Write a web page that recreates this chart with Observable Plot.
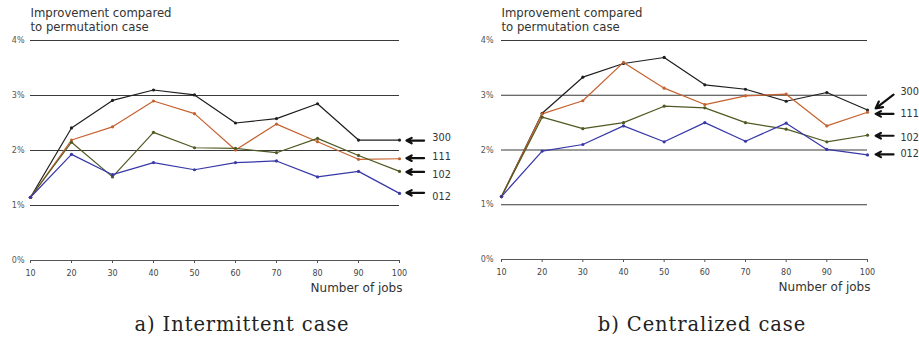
<!DOCTYPE html>
<html><head><meta charset="utf-8">
<script src="https://cdn.jsdelivr.net/npm/d3@7"></script>
<script src="https://cdn.jsdelivr.net/npm/@observablehq/plot@0.6"></script>
<style>
body{margin:0;background:#fff;}
#wrap{position:relative;width:919px;height:340px;overflow:hidden;}
.panel{position:absolute;top:0;}
.cap{position:absolute;top:315px;font-family:"DejaVu Serif","Liberation Serif",serif;font-size:19.5px;letter-spacing:0.9px;line-height:20px;color:#222;white-space:nowrap;transform:translateX(-50%);}
</style></head><body>
<div id="wrap"></div>
<script>
// ---- data ----
const jobs = [10, 20, 30, 40, 50, 60, 70, 80, 90, 100];
const seriesNames = ["300", "111", "102", "012"];
const seriesColors = ["#1e1e1e", "#c4622f", "#4e5a22", "#3838a8"];
const yTicks = [0, 1, 2, 3, 4];

// a) Intermittent case (improvement in %)
const inter300 = [1.15, 2.41, 2.91, 3.10, 3.01, 2.50, 2.58, 2.85, 2.19, 2.19];
const inter111 = [1.15, 2.19, 2.43, 2.90, 2.67, 2.01, 2.48, 2.16, 1.84, 1.85];
const inter102 = [1.15, 2.15, 1.52, 2.33, 2.05, 2.04, 1.96, 2.22, 1.91, 1.62];
const inter012 = [1.15, 1.93, 1.56, 1.78, 1.65, 1.78, 1.81, 1.52, 1.62, 1.22];

// b) Centralized case
const cent300 = [1.15, 2.67, 3.33, 3.58, 3.69, 3.19, 3.11, 2.89, 3.05, 2.73];
const cent111 = [1.15, 2.66, 2.90, 3.60, 3.13, 2.83, 2.99, 3.02, 2.44, 2.69];
const cent102 = [1.15, 2.60, 2.39, 2.50, 2.80, 2.77, 2.50, 2.38, 2.15, 2.27];
const cent012 = [1.15, 1.98, 2.10, 2.44, 2.15, 2.50, 2.16, 2.49, 2.01, 1.91];

// annotation arrows and series labels (y in data units)
const interArrowY = [2.18, 1.86, 1.61, 1.23];
const interLabelY = [2.23, 1.89, 1.55, 1.15];
const centLabelY = [3.07, 2.66, 2.23, 1.92];
const centArrowStartY = [3.01, 2.66, 2.26, 1.92];
const centArrowEndY = [2.76, 2.66, 2.26, 1.92];

const titleText = "Improvement compared\nto permutation case";
const xLabelText = "Number of jobs";
const captions = ["a) Intermittent case", "b) Centralized case"];

// ---- build ----
function rowsFrom(arrs) {
  const rows = [];
  arrs.forEach((vals, i) => vals.forEach((v, j) => rows.push({jobs: jobs[j], value: v, series: seriesNames[i]})));
  return rows;
}

function chart({width, height, marginLeft, marginRight, rows, arrows, labels, yPad}) {
  return Plot.plot({
    width, height, marginLeft, marginRight, marginTop: 40, marginBottom: 40,
    style: {fontFamily: "DejaVu Sans, Verdana, sans-serif", fontSize: "8px", color: "#444", background: "#fff"},
    x: {domain: [10, 100]},
    y: {domain: [0, 4]},
    color: {domain: seriesNames, range: seriesColors},
    marks: [
      Plot.ruleY([1, 2, 3, 4], {stroke: "#3a3a3a", strokeWidth: 1.2}),
      Plot.ruleY([0], {stroke: "#555", strokeWidth: 1.2}),
      Plot.axisX(jobs, {tickSize: 3, tickPadding: 7, fontSize: 8, fill: "#444", stroke: "#555", label: null}),
      Plot.axisY(yTicks, {tickSize: 0, tickPadding: yPad, fontSize: 8, fill: "#555", label: null, tickFormat: d => d + "%"}),
      Plot.line(rows, {x: "jobs", y: "value", z: "series", stroke: "series", strokeWidth: 1.2}),
      Plot.dot(rows, {x: "jobs", y: "value", fill: "series", r: 1.6}),
      Plot.arrow(arrows, {x1: "x1", y1: "y1", x2: "x2", y2: "y2", stroke: "#111", strokeWidth: 2.2, headLength: 7, headAngle: 55}),
      Plot.text(labels, {x: "x", y: "y", text: "text", textAnchor: "start", fontSize: 9.7, fill: "#333"}),
      Plot.text([titleText], {frameAnchor: "top-left", dy: -33, textAnchor: "start", lineAnchor: "top", lineHeight: 1.15, fontSize: 11.7, fill: "#333"}),
      Plot.text([xLabelText], {frameAnchor: "bottom-right", dy: 31, dx: 3, textAnchor: "end", fontSize: 12, fill: "#333"})
    ]
  });
}

const wrap = document.getElementById("wrap");

// left
const leftArrows = seriesNames.map((s, i) => ({x1: 106, y1: interArrowY[i], x2: 101.7, y2: interArrowY[i]}));
const leftLabels = seriesNames.map((s, i) => ({x: 108, y: interLabelY[i], text: s}));
const left = chart({width: 460, height: 300, marginLeft: 30, marginRight: 61,
  rows: rowsFrom([inter300, inter111, inter102, inter012]), arrows: leftArrows, labels: leftLabels, yPad: 6});

// right
const rightArrows = seriesNames.map((s, i) => ({x1: 106.4, y1: centArrowStartY[i], x2: 102, y2: centArrowEndY[i]}));
const rightLabels = seriesNames.map((s, i) => ({x: 108.1, y: centLabelY[i], text: s}));
const right = chart({width: 459, height: 299, marginLeft: 41, marginRight: 52,
  rows: rowsFrom([cent300, cent111, cent102, cent012]), arrows: rightArrows, labels: rightLabels, yPad: 8});

const p1 = document.createElement("div"); p1.className = "panel"; p1.style.left = "0px"; p1.appendChild(left);
const p2 = document.createElement("div"); p2.className = "panel"; p2.style.left = "460px"; p2.appendChild(right);
wrap.appendChild(p1); wrap.appendChild(p2);

[[242, captions[0]], [702, captions[1]]].forEach(([cx, t]) => {
  const d = document.createElement("div"); d.className = "cap"; d.style.left = cx + "px"; d.textContent = t; wrap.appendChild(d);
});
</script>
</body></html>
